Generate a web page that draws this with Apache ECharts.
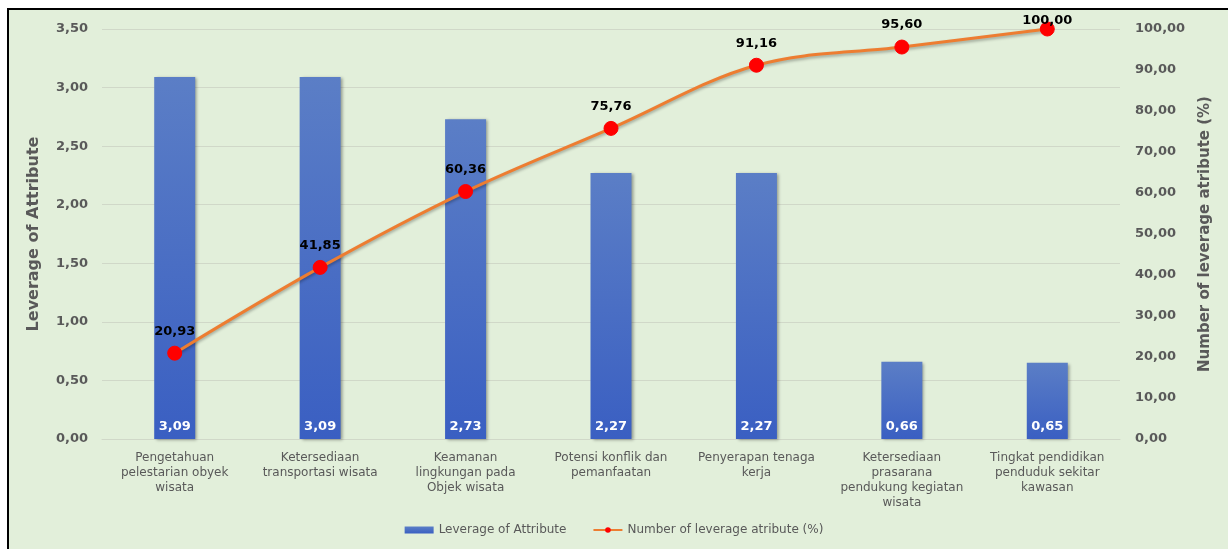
<!DOCTYPE html>
<html><head><meta charset="utf-8">
<script src="https://cdn.jsdelivr.net/npm/echarts@6/dist/echarts.min.js"></script>
<style>html,body{margin:0;padding:0;background:#fff;}#c{width:1228px;height:549px;}</style>
</head><body><div id="c"></div>
<script>
const categories = [
  'Pengetahuan\npelestarian obyek\nwisata',
  'Ketersediaan\ntransportasi wisata',
  'Keamanan\nlingkungan pada\nObjek wisata',
  'Potensi konflik dan\npemanfaatan',
  'Penyerapan tenaga\nkerja',
  'Ketersediaan\nprasarana\npendukung kegiatan\nwisata',
  'Tingkat pendidikan\npenduduk sekitar\nkawasan'
];
const leverage = [3.09, 3.09, 2.73, 2.27, 2.27, 0.66, 0.65];
const cumulative = [20.93, 41.85, 60.36, 75.76, 91.16, 95.60, 100.00];

const fmt = v => Number(v).toFixed(2).replace('.', ',');
const gray = '#595959';
const lineData = cumulative.map((v, i) => i === cumulative.length - 1
  ? { value: v, label: { distance: -6 } }
  : v);
const chart = echarts.init(document.getElementById('c'));
chart.setOption({
  backgroundColor: '#e2efda',
  animation: false,
  textStyle: { fontFamily: 'DejaVu Sans' },
  graphic: [
    { type: 'rect', shape: { x: 0, y: 0, width: 1228, height: 8 }, style: { fill: '#fff' }, z: 100 },
    { type: 'rect', shape: { x: 0, y: 0, width: 7, height: 549 }, style: { fill: '#fff' }, z: 100 },
    { type: 'rect', shape: { x: 7, y: 8, width: 1221, height: 2 }, style: { fill: '#000' }, z: 101 },
    { type: 'rect', shape: { x: 7, y: 8, width: 2, height: 541 }, style: { fill: '#000' }, z: 101 }
  ],
  grid: { left: 102, right: 108, top: 29, bottom: 110 },
  legend: {
    bottom: 8, left: 'center', itemWidth: 29, itemHeight: 7, itemGap: 26,
    textStyle: { color: gray, fontSize: 12 },
    data: [
      { name: 'Leverage of Attribute', icon: 'rect' },
      { name: 'Number of leverage atribute (%)' }
    ]
  },
  xAxis: {
    type: 'category', data: categories,
    axisLine: { lineStyle: { color: '#d0d8c8' } },
    axisTick: { show: false },
    axisLabel: { color: gray, fontSize: 12, lineHeight: 15, interval: 0, margin: 11 }
  },
  yAxis: [
    {
      type: 'value', min: 0, max: 3.5, interval: 0.5,
      name: 'Leverage of Attribute', nameLocation: 'middle', nameGap: 60, nameRotate: 90,
      nameTextStyle: { color: gray, fontSize: 16, fontWeight: 'bold' },
      axisLabel: { color: gray, fontSize: 13, fontWeight: 'bold', formatter: fmt, margin: 14 },
      splitLine: { lineStyle: { color: '#d0d8c8' } },
      axisLine: { show: false }, axisTick: { show: false }
    },
    {
      type: 'value', min: 0, max: 100, interval: 10,
      name: 'Number of leverage atribute (%)', nameLocation: 'middle', nameGap: 78, nameRotate: 90,
      nameTextStyle: { color: gray, fontSize: 15, fontWeight: 'bold' },
      axisLabel: { color: gray, fontSize: 13, fontWeight: 'bold', formatter: fmt, margin: 15 },
      splitLine: { show: false },
      axisLine: { show: false }, axisTick: { show: false }
    }
  ],
  series: [
    {
      name: 'Leverage of Attribute', type: 'bar', data: leverage, barWidth: 41,
      itemStyle: {
        color: new echarts.graphic.LinearGradient(0, 0, 0, 1, [
          { offset: 0, color: '#5b7ec6' }, { offset: 1, color: '#3a5fc2' }
        ]),
        shadowColor: 'rgba(0,0,0,0.35)', shadowBlur: 3, shadowOffsetX: 2, shadowOffsetY: 1
      },
      label: {
        show: true, position: 'insideBottom', distance: 6, color: '#fff',
        fontWeight: 'bold', fontSize: 13, formatter: p => fmt(p.value)
      }
    },
    {
      name: 'Number of leverage atribute (%)', type: 'line', yAxisIndex: 1, data: lineData,
      smooth: 0.35, symbol: 'circle', symbolSize: 14,
      lineStyle: { color: '#ed7d31', width: 3, shadowColor: 'rgba(0,0,0,0.3)', shadowBlur: 3, shadowOffsetY: 2 },
      itemStyle: { color: '#ff0000', borderColor: '#ff0000' },
      label: {
        show: true, position: 'top', distance: 8, color: '#000',
        fontWeight: 'bold', fontSize: 13, formatter: p => fmt(p.value)
      },
      labelLayout: { hideOverlap: false },
      z: 5
    }
  ]
});
</script></body></html>
